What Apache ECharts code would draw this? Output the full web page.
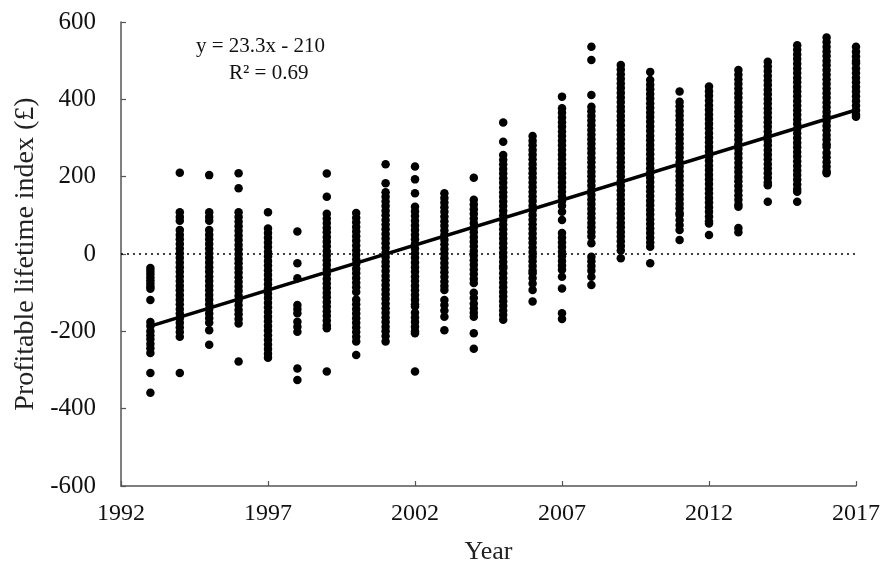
<!DOCTYPE html>
<html>
<head>
<meta charset="utf-8">
<script src="https://cdn.jsdelivr.net/npm/echarts@6/dist/echarts.min.js"></script>
<style>
html,body{margin:0;padding:0;background:#fff;}
#chart{width:886px;height:571px;}
</style>
</head>
<body>
<div id="chart"></div>
<script>
// ---- data ----
const xTicks = [1992, 1997, 2002, 2007, 2012, 2017];
const yTicks = [-600, -400, -200, 0, 200, 400, 600];
const years = [1993,1994,1995,1996,1997,1998,1999,2000,2001,2002,2003,2004,2005,2006,2007,2008,2009,2010,2011,2012,2013,2014,2015,2016,2017];

const v1993 = [-36,-44,-52,-60,-68,-76,-84,-90,-119,-176,-186,-200,-210,-220,-232,-244,-256,-308,-359];
const v1994 = [210,108,96,86,62,50,38,26,14,2,-10,-22,-34,-46,-58,-70,-82,-94,-106,-118,-130,-142,-154,-166,-178,-190,-202,-214,-308];
const v1995 = [204,108,96,86,62,50,38,26,14,2,-10,-22,-34,-46,-58,-70,-82,-94,-106,-118,-130,-142,-154,-166,-178,-197,-235];
const v1996 = [209,170,108,96,84,72,60,48,36,24,12,0,-12,-24,-36,-48,-60,-72,-84,-96,-108,-120,-132,-144,-156,-168,-180,-278];
const v1997 = [108,66,54,42,30,18,6,-6,-18,-30,-42,-54,-66,-78,-90,-102,-114,-126,-138,-150,-162,-174,-186,-198,-210,-222,-234,-246,-258,-268];
const v1998 = [58,-24,-63,-132,-142,-153,-175,-188,-201,-296,-326];
const v1999 = [208,148,104,92,80,68,56,44,32,20,8,-4,-16,-28,-40,-52,-64,-76,-88,-100,-112,-124,-136,-148,-160,-172,-184,-192,-304];
const v2000 = [106,94,82,70,58,46,34,22,10,-2,-14,-26,-38,-50,-62,-74,-86,-98,-118,-130,-142,-154,-166,-178,-190,-202,-214,-226,-261];
const v2001 = [232,183,160,148,136,124,112,100,88,76,64,52,40,28,16,4,-8,-20,-32,-44,-56,-68,-80,-92,-104,-116,-128,-140,-152,-164,-176,-188,-200,-212,-226];
const v2002 = [226,193,157,122,110,98,86,74,62,50,38,26,14,2,-10,-22,-34,-46,-58,-70,-82,-94,-106,-118,-130,-136,-152,-164,-176,-188,-200,-205,-304];
const v2003 = [157,145,133,121,109,97,85,73,61,49,37,25,13,1,-11,-23,-35,-47,-59,-71,-83,-93,-119,-132,-146,-162,-197];
const v2004 = [197,140,128,116,104,92,80,68,56,44,32,20,8,-4,-16,-28,-40,-52,-64,-75,-100,-114,-128,-140,-152,-162,-205,-245];
const v2005 = [340,290,256,244,232,220,208,196,184,172,160,148,136,124,112,100,88,76,64,52,40,28,16,4,-8,-20,-32,-37,-50,-62,-74,-86,-98,-110,-122,-134,-146,-158,-170];
const v2006 = [305,293,281,269,257,245,233,221,209,197,185,173,161,149,137,125,113,101,89,77,65,53,41,29,17,5,-7,-19,-31,-43,-50,-62,-76,-93,-123];
const v2007 = [407,377,365,353,341,329,317,305,293,281,269,257,245,233,221,209,197,185,173,161,149,137,125,109,88,54,42,30,18,6,-6,-18,-30,-41,-59,-89,-153,-168];
const v2008 = [536,502,411,381,369,357,345,333,321,309,297,285,273,261,249,237,225,213,201,189,177,165,153,141,129,117,105,93,81,69,57,45,28,-7,-19,-31,-43,-59,-80];
const v2009 = [489,477,465,453,441,429,417,405,393,381,369,357,345,333,321,309,297,285,273,261,249,237,225,213,201,189,177,165,153,141,129,117,105,93,81,69,57,45,33,21,9,-11];
const v2010 = [471,450,438,426,414,402,390,378,366,354,342,330,318,306,294,282,270,258,246,234,222,210,198,186,174,162,150,138,126,114,102,90,78,66,54,42,30,19,-24];
const v2011 = [420,394,382,370,358,346,334,322,310,298,286,274,262,250,238,226,214,202,190,178,166,154,142,130,118,106,101,88,75,62,36];
const v2012 = [433,421,409,397,385,373,361,349,337,325,313,301,289,277,265,253,241,229,217,205,193,181,169,157,145,133,121,109,97,85,79,49];
const v2013 = [476,464,452,440,428,416,404,392,380,368,356,344,332,320,308,296,284,272,260,248,236,224,212,200,188,176,164,152,140,128,122,67,56];
const v2014 = [497,485,473,461,449,437,425,413,401,389,377,365,353,341,329,317,305,293,281,269,257,245,233,221,209,197,185,178,135];
const v2015 = [540,528,516,504,492,480,468,456,444,432,420,408,396,384,372,360,348,336,324,312,300,288,276,264,252,240,228,216,204,192,180,168,161,135];
const v2016 = [560,548,536,524,512,500,488,476,464,452,440,428,416,404,392,380,368,356,344,332,320,308,296,284,277,262,250,238,226,214,209];
const v2017 = [536,523,511,499,493,480,468,456,444,432,420,408,396,384,372,360,355];

const columns = [v1993,v1994,v1995,v1996,v1997,v1998,v1999,v2000,v2001,v2002,v2003,v2004,v2005,v2006,v2007,v2008,v2009,v2010,v2011,v2012,v2013,v2014,v2015,v2016,v2017];

// fitted trend line endpoints (y = 23.3x - 210, x = years since 1992)
const trendX = [1993, 2017];
const trendY = [-186.7, 372.5];

const eqLine1 = 'y = 23.3x - 210';
const eqLine2 = 'R\u00B2 = 0.69';

// ---- build ----
const scatterData = [];
years.forEach((yr, i) => columns[i].forEach(v => scatterData.push([yr, v])));
const trendData = trendX.map((x, i) => [x, trendY[i]]);

const FONT = '"Liberation Serif", "Times New Roman", serif';
const chart = echarts.init(document.getElementById('chart'), null, {renderer: 'canvas'});
chart.setOption({
  animation: false,
  backgroundColor: '#fff',
  grid: {left: 121, right: 30, top: 22, bottom: 85, containLabel: false, outerBoundsMode: 'none'},
  xAxis: {
    type: 'value', min: 1992, max: 2017, interval: 5,
    name: 'Year', nameLocation: 'middle', nameGap: 53,
    nameTextStyle: {fontFamily: FONT, fontSize: 26, color: '#222'},
    axisLine: {onZero: false, lineStyle: {color: '#555', width: 1.5}},
    axisTick: {inside: true, length: 5, lineStyle: {color: '#555', width: 1.2}},
    axisLabel: {fontFamily: FONT, fontSize: 24, color: '#111', margin: 16,
      formatter: v => xTicks.includes(v) ? String(v) : ''},
    splitLine: {show: false}
  },
  yAxis: {
    type: 'value', min: -600, max: 600, interval: 200,
    name: 'Profitable lifetime index (\u00A3)', nameLocation: 'middle', nameGap: 80,
    nameTextStyle: {fontFamily: FONT, fontSize: 28, color: '#222'},
    axisLine: {show: true, lineStyle: {color: '#555', width: 1.5}},
    axisTick: {show: true, inside: true, length: 5, lineStyle: {color: '#555', width: 1.2}},
    axisLabel: {fontFamily: FONT, fontSize: 25, color: '#111', margin: 25,
      formatter: v => yTicks.includes(v) ? String(v) : ''},
    splitLine: {show: false}
  },
  series: [
    {
      type: 'scatter', data: scatterData, symbol: 'circle', symbolSize: 8.5,
      itemStyle: {color: '#000', opacity: 1},
      markLine: {
        silent: true, symbol: 'none', label: {show: false},
        lineStyle: {type: [2, 4], color: '#000', width: 1.5},
        data: [{yAxis: 0}]
      },
      z: 2
    },
    {
      type: 'line', data: trendData, showSymbol: false, symbol: 'none',
      lineStyle: {color: '#000', width: 3.5}, z: 3
    }
  ],
  graphic: [
    {type: 'text', left: 196, top: 36, style: {text: eqLine1, font: '21px ' + FONT, fill: '#111'}},
    {type: 'text', left: 229, top: 63, style: {text: eqLine2, font: '21px ' + FONT, fill: '#111'}}
  ]
});
</script>
</body>
</html>
